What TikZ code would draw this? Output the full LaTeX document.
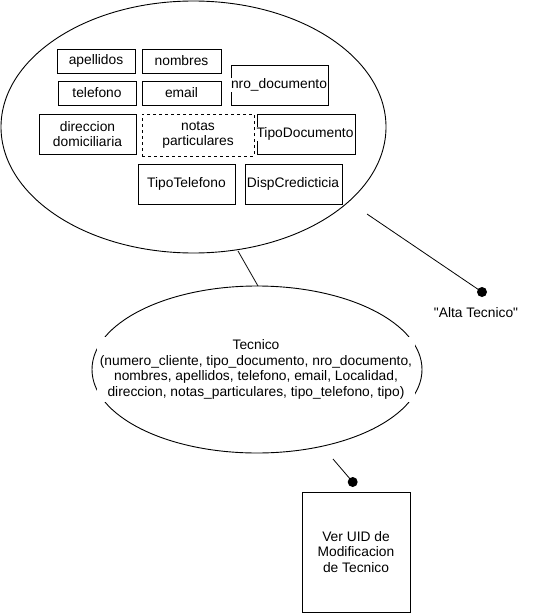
\documentclass[tikz,border=0pt]{standalone}
\usepackage{fontspec}
\setmainfont{Liberation Sans}
\usetikzlibrary{shapes.geometric}
\begin{document}
\begin{tikzpicture}[x=1pt,y=-1pt,line width=0.9pt,
  every node/.style={font=\fontsize{13.8}{15.7}\selectfont, inner sep=0pt},
  attr/.style={draw, rectangle, align=center},
  oval/.style={draw, ellipse},
  dot/.style={circle, fill=black, minimum size=10pt},
  link/.style={draw, line width=0.8pt}]
\useasboundingbox (0,0) rectangle (534,613);

% entity attributes grouped in the upper ellipse
\node[oval, minimum width=385pt, minimum height=252pt] (grp) at (193.5,127) {};
\node[attr, minimum width=78pt, minimum height=24pt] (ape) at (96,61) {apellidos};
\node[attr, minimum width=79pt, minimum height=24pt] (nom) at (181.5,61) {nombres};
\node[attr, minimum width=78pt, minimum height=24pt] (tel) at (97,93) {telefono};
\node[attr, minimum width=79pt, minimum height=24pt] (ema) at (181.5,93) {email};
\node[attr, minimum width=97pt, minimum height=40pt] (nro) at (279.5,85) {};
\node[fill=white, inner sep=0.5pt] (nrot) at (279,85) {nro\_documento};
\node[attr, minimum width=97pt, minimum height=40pt] (dir) at (87.5,134) {direccion\\domiciliaria};
\node[attr, dashed, minimum width=112pt, minimum height=42pt] (not) at (198,135) {notas\\particulares};
\node[attr, minimum width=98pt, minimum height=40pt] (tdo) at (306,134) {};
\node[fill=white, inner sep=0.3pt] (tdot) at (305,134) {TipoDocumento};
\node[attr, minimum width=97pt, minimum height=40pt] (tte) at (186.5,184) {TipoTelefono};
\node[attr, minimum width=97pt, minimum height=40pt] (dis) at (293.5,184) {};
\node[fill=white, inner sep=0.3pt] (dist) at (293,184) {DispCredicticia};

% relation ellipse
\node[oval, minimum width=330pt, minimum height=167pt] (tec) at (257,369.5) {};
\node[fill=white, align=center, inner sep=2.5pt] (tect) at (256,369.5)
  {Tecnico\\(numero\_cliente, tipo\_documento, nro\_documento,\\nombres, apellidos, telefono, email, Localidad,\\direccion, notas\_particulares, tipo\_telefono, tipo)};

% interface box
\node[attr, minimum width=108pt, minimum height=120pt] (ver) at (356,552) {Ver UID de\\Modificacion\\de Tecnico};

% endpoints
\node[dot] (d1) at (482,292) {};
\node[dot] (d2) at (352.7,482) {};
\node (alta) at (476,313) {\textquotedbl Alta Tecnico\textquotedbl};

\coordinate (g1) at (238,251);
\coordinate (t1) at (258,286);
\coordinate (g2) at (367,214);
\coordinate (t2) at (333,459);

\draw[link] (g1) -- (t1);
\draw[link] (g2) -- (d1.center);
\draw[link] (t2) -- (d2.center);
\end{tikzpicture}
\end{document}
